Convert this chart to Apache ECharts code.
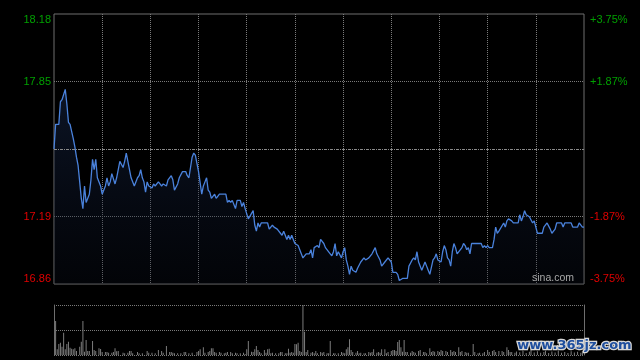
<!DOCTYPE html>
<html>
<head>
<meta charset="utf-8">
<script src="https://cdn.jsdelivr.net/npm/echarts@6/dist/echarts.min.js"></script>
<style>
html,body{margin:0;padding:0;background:#000;}
#chart{width:640px;height:360px;}
</style>
</head>
<body>
<div id="chart"></div>
<script>
// ---- data ----
const prevClose = 17.52;
// minutes since the open (HK session: 330 trading minutes)
const priceMinutes = [0,1,3,4,5,7,8,9,10,12,13,14,15,16,17,18,19,20,22,23,24,25,26,27,29,30,32,33,34,35,36,38,39,41,43,44,45,47,48,50,51,52,53,54,55,56,57,58,59,61,62,63,65,66,67,68,70,71,73,74,75,77,78,80,82,83,84,85,86,87,88,89,90,91,92,93,94,95,96,97,98,99,100,101,103,107,108,109,110,111,113,114,116,117,118,119,121,122,124,125,126,127,128,129,133,134,136,137,139,141,142,143,145,146,147,148,149,150,152,153,155,156,157,159,160,161,162,164,165,166,168,169,172,173,174,175,176,177,179,180,181,182,183,184,185,186,188,189,191,193,194,196,197,198,200,201,202,203,204,206,207,208,209,210,211,213,214,215,217,220,221,222,223,224,225,226,227,229,230,231,232,233,234,236,237,238,239,241,242,243,244,245,246,247,248,249,250,251,252,254,255,256,257,258,259,260,266,267,268,269,270,271,273,274,275,276,277,278,280,281,282,283,285,286,289,290,291,292,293,294,295,296,298,299,300,301,304,305,307,309,310,312,313,316,317,318,322,323,326,327,329,330];
const prices = [17.52,17.64,17.64,17.75,17.76,17.81,17.74,17.65,17.64,17.57,17.53,17.48,17.44,17.36,17.28,17.23,17.34,17.26,17.30,17.37,17.47,17.42,17.47,17.38,17.34,17.30,17.34,17.38,17.34,17.36,17.40,17.35,17.38,17.46,17.43,17.46,17.50,17.42,17.38,17.34,17.34,17.38,17.39,17.42,17.38,17.36,17.31,17.36,17.34,17.33,17.35,17.34,17.36,17.35,17.34,17.35,17.34,17.37,17.39,17.37,17.32,17.35,17.38,17.41,17.41,17.39,17.38,17.43,17.48,17.50,17.49,17.45,17.41,17.41,17.30,17.34,17.36,17.38,17.32,17.31,17.28,17.28,17.30,17.28,17.30,17.30,17.26,17.27,17.26,17.27,17.23,17.27,17.27,17.24,17.26,17.23,17.18,17.18,17.22,17.15,17.12,17.16,17.14,17.16,17.16,17.13,17.15,17.14,17.13,17.11,17.10,17.12,17.08,17.10,17.08,17.10,17.08,17.06,17.05,17.05,16.99,16.99,17.01,17.01,17.03,16.99,17.04,17.05,17.04,17.08,17.06,17.04,17.01,17.00,17.02,17.06,17.00,17.02,16.99,17.02,17.04,16.98,16.95,16.91,16.95,16.93,16.92,16.94,16.97,16.99,16.98,16.99,16.99,17.01,17.04,17.01,17.01,16.98,16.95,16.97,16.97,16.99,16.99,16.97,16.92,16.92,16.91,16.88,16.89,16.89,16.95,16.95,16.98,16.99,16.98,17.02,16.97,16.93,16.93,16.97,16.95,16.93,16.91,16.98,16.99,17.01,16.98,16.97,17.02,17.05,17.03,16.99,16.98,16.95,17.02,17.06,17.04,17.01,17.01,17.04,17.06,17.05,17.03,17.04,17.01,17.06,17.06,17.04,17.05,17.04,17.05,17.04,17.04,17.08,17.14,17.11,17.12,17.12,17.16,17.14,17.17,17.18,17.17,17.16,17.16,17.20,17.17,17.19,17.22,17.20,17.20,17.19,17.16,17.17,17.14,17.11,17.11,17.14,17.16,17.13,17.11,17.13,17.16,17.16,17.14,17.16,17.16,17.14,17.14,17.16,17.14,17.14];

const volumeMinutes = [1,2,3,4,5,6,7,8,9,10,11,12,13,14,16,17,18,19,20,21,22,24,25,26,28,29,30,32,33,34,36,37,38,39,40,43,44,46,47,48,49,52,53,55,58,59,61,63,65,67,68,70,72,73,74,75,77,79,81,82,84,86,89,90,91,93,94,96,97,98,99,100,101,103,104,106,107,108,110,111,113,114,116,118,119,120,121,123,124,125,126,127,128,129,131,132,133,134,135,136,138,140,141,142,144,145,146,147,148,149,150,151,152,153,154,155,156,157,158,160,161,162,163,164,166,167,168,170,171,172,174,175,177,179,180,181,182,183,184,185,186,188,189,190,191,193,194,196,197,198,199,201,202,203,204,206,207,208,210,211,212,213,214,215,216,217,218,219,220,222,223,224,225,227,228,230,231,232,234,235,236,237,239,240,241,242,244,245,247,248,249,250,252,253,254,256,257,258,261,262,264,265,267,268,270,271,273,274,275,277,279,280,282,283,284,285,287,288,290,292,294,296,297,299,301,303,305,306,308,310,312,314,316,318,320,322,324,326,328,329];
const volumes = [136,23,44,49,33,89,23,44,53,29,25,23,27,16,33,53,136,13,60,16,16,56,20,16,27,24,12,12,12,9,9,12,27,15,16,9,7,9,16,16,7,12,7,7,16,9,9,7,20,16,9,36,12,12,9,7,7,7,12,12,7,9,12,16,23,31,9,12,16,27,27,12,9,12,9,7,9,12,12,7,9,7,7,9,4,23,56,13,12,23,36,20,12,7,20,9,23,25,7,9,7,7,12,12,7,7,25,9,12,9,44,43,49,16,12,200,93,12,20,9,12,7,16,7,12,9,12,7,7,56,7,7,7,12,9,7,23,31,63,20,12,9,16,7,9,7,7,12,9,12,23,9,12,9,23,23,7,12,16,20,20,16,52,60,31,13,60,12,12,9,16,12,9,16,20,12,12,7,27,12,16,13,16,12,20,16,16,12,20,12,16,12,31,12,16,12,9,9,44,12,7,9,7,12,20,12,16,20,12,16,16,12,31,20,12,12,9,14,11,18,8,13,22,10,15,9,12,17,8,14,10,19,9,12,8,15,10,13,9,16];

const leftTickLabels = ['16.86','17.19','','17.85','18.18'];
const rightTickLabels = ['-3.75%','-1.87%','','+1.87%','+3.75%'];

// ---- build series data ----
const pctData = priceMinutes.map((m, i) => [m, (prices[i] / prevClose - 1) * 100]);
const volData = volumeMinutes.map((m, i) => [m, volumes[i]]);

const UP = '#00a000', DOWN = '#e00000';
const FONT = '"Liberation Sans", Arial, sans-serif';
const GRID = '#7a7a7a', NONE = 'rgba(0,0,0,0)';
const tickIdx = v => Math.round(v / 1.875) + 2;
const vColors = [NONE, GRID, GRID, GRID, GRID, GRID, GRID, GRID, GRID, GRID, GRID, NONE];

const chart = echarts.init(document.getElementById('chart'), null, {renderer: 'canvas'});
chart.setOption({
  backgroundColor: '#000',
  animation: false,
  grid: [
    {left: 54, top: 14, width: 530, height: 270, show: true, borderColor: '#6e6e6e', borderWidth: 1, backgroundColor: 'transparent'},
    {left: 54, top: 305, width: 530, height: 50, show: false}
  ],
  xAxis: [
    {type: 'value', gridIndex: 0, min: 0, max: 330, interval: 30,
     axisLine: {show: false}, axisTick: {show: false}, axisLabel: {show: false},
     splitLine: {show: true, lineStyle: {color: vColors, type: 'dotted', width: 1}}},
    {type: 'value', gridIndex: 1, min: 0, max: 330, interval: 30,
     axisLine: {show: false}, axisTick: {show: false}, axisLabel: {show: false},
     splitLine: {show: false}}
  ],
  yAxis: [
    {type: 'value', gridIndex: 0, position: 'left', min: -3.75, max: 3.75, interval: 1.875,
     axisLine: {show: false}, axisTick: {show: false},
     axisLabel: {show: true, margin: 3, fontSize: 11, fontFamily: FONT,
       formatter: v => leftTickLabels[tickIdx(v)],
       color: v => (v > 0 ? UP : DOWN),
       verticalAlignMaxLabel: 'top', verticalAlignMinLabel: 'bottom'},
     splitLine: {show: true, lineStyle: {color: [NONE, GRID, NONE, GRID, NONE], type: 'dotted', width: 1}}},
    {type: 'value', gridIndex: 0, position: 'right', min: -3.75, max: 3.75, interval: 1.875,
     axisLine: {show: false}, axisTick: {show: false},
     axisLabel: {show: true, margin: 6, fontSize: 11, fontFamily: FONT,
       formatter: v => rightTickLabels[tickIdx(v)],
       color: v => (v > 0 ? UP : DOWN),
       verticalAlignMaxLabel: 'top', verticalAlignMinLabel: 'bottom'},
     splitLine: {show: false}},
    {type: 'value', gridIndex: 1, position: 'left', min: 0, max: 200, interval: 100,
     axisLine: {show: true, lineStyle: {color: '#6e6e6e', width: 1}}, axisTick: {show: false}, axisLabel: {show: false},
     splitLine: {show: true, lineStyle: {color: GRID, type: 'dotted', width: 1}}},
    {type: 'value', gridIndex: 1, position: 'right', min: 0, max: 200, interval: 100,
     axisLine: {show: true, lineStyle: {color: '#6e6e6e', width: 1}}, axisTick: {show: false}, axisLabel: {show: false},
     splitLine: {show: false}}
  ],
  series: [
    {type: 'line', xAxisIndex: 0, yAxisIndex: 0, data: pctData, symbol: 'none', smooth: false,
     lineStyle: {color: '#4a82dc', width: 1.3},
     areaStyle: {origin: 'start', color: new echarts.graphic.LinearGradient(0, 0, 0, 1, [
       {offset: 0, color: 'rgba(28,48,90,0.6)'},
       {offset: 1, color: 'rgba(10,16,32,0.35)'}
     ])},
     markLine: {silent: true, symbol: 'none', label: {show: false},
       lineStyle: {color: '#8a8a8a', type: [3, 1, 1, 1], width: 1},
       data: [{yAxis: 0}]}
    },
    {type: 'bar', xAxisIndex: 1, yAxisIndex: 2, data: volData, barWidth: 1,
     itemStyle: {color: '#7c7c7c'}}
  ],
  graphic: [
    {type: 'text', right: 640 - 574, top: 273, z: 10,
     style: {text: 'sina.com', fill: '#a8a8a8', font: '10.5px ' + FONT}},
    {type: 'text', left: 516, top: 338, z: 20,
     style: {text: 'www.365jz.com', fill: '#1e4e9e', stroke: '#d8d8d8', lineWidth: 2.5,
             font: 'bold 13px "DejaVu Sans", Verdana, sans-serif'}}
  ]
});
</script>
</body>
</html>
